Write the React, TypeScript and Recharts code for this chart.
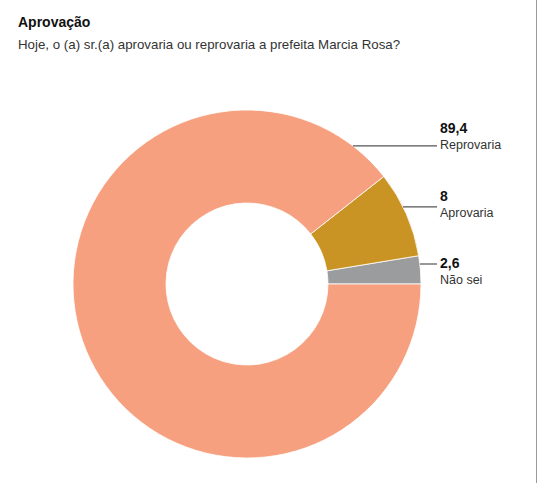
import { PieChart, Pie, Cell } from 'recharts'

const categories = ['Não sei', 'Aprovaria', 'Reprovaria']
const values = [2.6, 8, 89.4]
const valueLabels = ['2,6', '8', '89,4']
const colors = ['#9b9c9e', '#c99423', '#f6a07f']

// where the leader line leaves the ring (degrees) and text baseline offset from the line
const lineAngles = [6.6, 26.3, 52.5]
const textDy = [4, -6, -13]

const FONT = '"Liberation Sans", Arial, sans-serif'
const LINE_END_X = 437

const data = categories.map((name, i) => ({ name, value: values[i] }))

const RAD = Math.PI / 180

function renderLabel(props: any) {
  const { cx, cy, outerRadius, index } = props
  const a = lineAngles[index] * RAD
  const x0 = cx + outerRadius * Math.cos(a)
  const y0 = cy - outerRadius * Math.sin(a)
  const ty = y0 + textDy[index]
  return (
    <g key={`lbl-${index}`}>
      <line x1={x0} y1={y0} x2={LINE_END_X} y2={y0} stroke="#555" strokeWidth={1.2} />
      <text x={LINE_END_X + 3} y={ty} fontFamily={FONT} fontSize={14} fontWeight="bold" fill="#111">
        {valueLabels[index]}
      </text>
      <text x={LINE_END_X + 3} y={ty + 16} fontFamily={FONT} fontSize={12.5} fill="#333">
        {categories[index]}
      </text>
    </g>
  )
}

export default function App() {
  return (
    <div style={{ position: 'absolute', left: 0, top: 0, width: 546, height: 483, background: '#fff', fontFamily: FONT }}>
      <div style={{ position: 'absolute', left: 18, top: 14, fontSize: 14, fontWeight: 'bold', color: '#111' }}>
        Aprovação
      </div>
      <div style={{ position: 'absolute', left: 18, top: 37, fontSize: 13.3, color: '#333', whiteSpace: 'nowrap' }}>
        Hoje, o (a) sr.(a) aprovaria ou reprovaria a prefeita Marcia Rosa?
      </div>
      <div style={{ position: 'absolute', left: 536, top: 0, width: 1, height: 483, background: '#9a9a9a' }} />
      <div style={{ position: 'absolute', left: 0, top: 0 }}>
        <PieChart width={546} height={483}>
          <Pie
            data={data}
            dataKey="value"
            nameKey="name"
            cx={242}
            cy={279}
            innerRadius={81}
            outerRadius={174}
            startAngle={0}
            endAngle={360}
            stroke="#fff"
            strokeWidth={0.8}
            label={renderLabel}
            labelLine={false}
            isAnimationActive={false}
          >
            {data.map((d, i) => (
              <Cell key={d.name} fill={colors[i]} />
            ))}
          </Pie>
        </PieChart>
      </div>
    </div>
  )
}
